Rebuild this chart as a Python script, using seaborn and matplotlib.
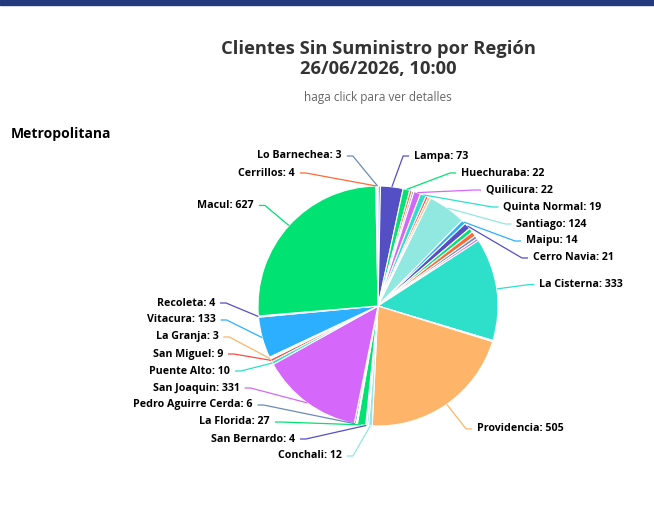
import matplotlib
matplotlib.use("Agg")
import matplotlib.pyplot as plt
from matplotlib.patches import Rectangle
import seaborn as sns
import numpy as np

# ---------------- datos ----------------
# comunas en el orden del gráfico (None = etiqueta oculta en el original)
comunas = [None, "Lampa", "Huechuraba", None, None, "Quilicura", "Quinta Normal", None, None,
           "Santiago", "Maipu", "Cerro Navia", None, None, None, None, "La Cisterna", None,
           "Providencia", "Conchali", None, "San Bernardo", "La Florida", None,
           "Pedro Aguirre Cerda", "San Joaquin", "Puente Alto", "San Miguel", "La Granja", None,
           "Vitacura", "Recoleta", "Macul", "Cerrillos", "Lo Barnechea"]
clientes = [8, 73, 22, 8, 6, 22, 19, 8, 8,
            124, 14, 21, 14, 16, 10, 8, 333, 4,
            505, 12, 5, 4, 27, 4,
            6, 331, 10, 9, 3, 4,
            133, 4, 627, 4, 3]

titulo = "Clientes Sin Suministro por Región\n26/06/2026, 10:00"
subtitulo = "haga click para ver detalles"
region = "Metropolitana"

# paleta por defecto de Highcharts
PALETA_HC = ["#2caffe", "#544fc5", "#00e272", "#fe6a35", "#6b8abc",
             "#d568fb", "#2ee0ca", "#fa4b42", "#feb56a", "#91e8e1"]

# ---------------- layout (pixeles) ----------------
W, H = 654, 532
CX, CY, R = 378, 306, 120
SEP = 17

sns.set_theme(style="white")
plt.rcParams['font.family'] = ['Open Sans', 'DejaVu Sans']


def repartir(ideal, lo, hi, sep=SEP):
    # agrupa etiquetas que se pisan y las centra en su posicion ideal
    orden = sorted(range(len(ideal)), key=lambda i: ideal[i])
    grupos = [[i] for i in orden]
    while True:
        inicios = []
        for g in grupos:
            media = np.mean([ideal[i] for i in g])
            ini = media - (len(g) - 1) * sep / 2
            ini = min(max(ini, lo), hi - (len(g) - 1) * sep)
            inicios.append(ini)
        fusion = False
        for k in range(len(grupos) - 1):
            if inicios[k + 1] < inicios[k] + len(grupos[k]) * sep:
                grupos[k] = grupos[k] + grupos[k + 1]
                del grupos[k + 1]
                fusion = True
                break
        if not fusion:
            break
    pos = {}
    for g, ini in zip(grupos, inicios):
        for n, i in enumerate(g):
            pos[i] = ini + n * sep
    return [pos[i] for i in range(len(ideal))]


fig = plt.figure(figsize=(W / 100, H / 100), dpi=100)
ax = fig.add_axes([0, 0, 1, 1])

colores = sns.color_palette(PALETA_HC, n_colors=len(clientes))
ax.pie(clientes, colors=colores, startangle=90, counterclock=False, radius=R,
       center=(CX, H - CY), frame=True,
       wedgeprops=dict(edgecolor="white", linewidth=0.8))

ax.set_xlim(0, W)
ax.set_ylim(0, H)
ax.set_aspect("equal")
ax.axis("off")

# barra superior
ax.add_patch(Rectangle((0, H - 5), W, 5, color="#233a7e", clip_on=False))

# angulos medios (horario desde arriba)
total = sum(clientes)
acum = np.cumsum([0] + clientes)
medios = [(acum[i] + clientes[i] / 2) / total * 2 * np.pi for i in range(len(clientes))]

for lado in ("der", "izq"):
    idx = [i for i, c in enumerate(comunas)
           if c is not None and ((medios[i] <= np.pi) == (lado == "der"))]
    ideal = [CY - 150 * np.cos(medios[i]) for i in idx]
    ys = repartir(ideal, CY - 150, CY + 150)
    s = 1 if lado == "der" else -1
    for i, y in zip(idx, ys):
        dx = 158 * np.sqrt(max(0.0, 1 - ((y - CY) / 153) ** 2))
        x0 = CX + s * dx
        ex = CX + R * np.sin(medios[i])
        ey = CY - R * np.cos(medios[i])
        ax.plot([x0, x0 - s * 6, ex], [H - y, H - y, H - ey],
                color=colores[i], lw=0.9, solid_capstyle="butt")
        ax.text(x0 + s * 5, H - y, f"{comunas[i]}: {clientes[i]}",
                ha="left" if s > 0 else "right", va="center",
                fontsize=7.7, fontweight="bold", color="black")

# titulos
ax.text(CX, H - 59, titulo, ha="center", va="center", fontsize=13.2,
        fontweight="bold", color="#333333", linespacing=1.15)
ax.text(CX, H - 97, subtitulo, ha="center", va="center", fontsize=8.5, color="#666666")
ax.text(11, H - 134, region, ha="left", va="center", fontsize=10,
        fontweight="bold", color="black")

fig.savefig("out.png", dpi=100, facecolor="white")
